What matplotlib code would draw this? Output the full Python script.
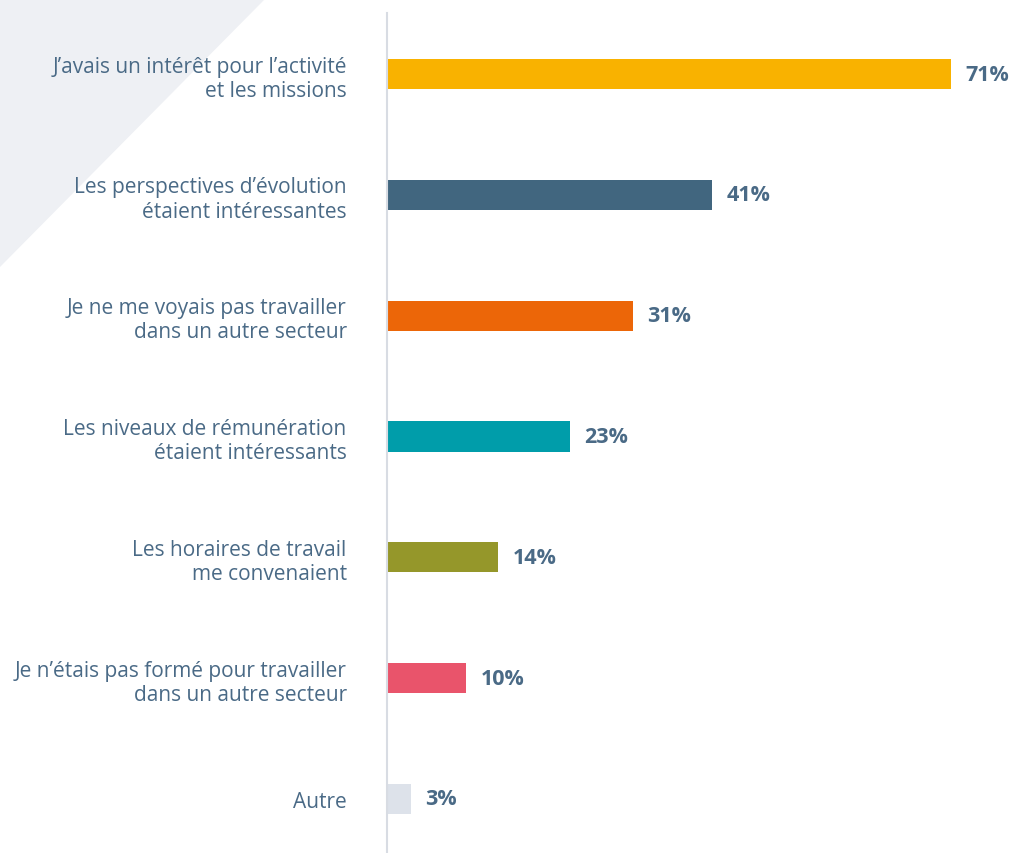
import matplotlib.pyplot as plt
from matplotlib.patches import Polygon

# Données
categories = [
    "J\u2019avais un intérêt pour l\u2019activité\net les missions",
    "Les perspectives d\u2019évolution\nétaient intéressantes",
    "Je ne me voyais pas travailler\ndans un autre secteur",
    "Les niveaux de rémunération\nétaient intéressants",
    "Les horaires de travail\nme convenaient",
    "Je n\u2019étais pas formé pour travailler\ndans un autre secteur",
    "Autre",
]
valeurs = [71, 41, 31, 23, 14, 10, 3]
couleurs = ["#F9B200", "#41667F", "#EC6608", "#009DAA", "#95972A", "#E9546B", "#DDE2EA"]

texte = "#4A6A86"
plt.rcParams['font.family'] = ['Open Sans', 'DejaVu Sans']

fig = plt.figure(figsize=(10.11, 8.54), dpi=100)
W, H = 1011, 854

# Triangle gris en haut à gauche (axe de fond)
bg = fig.add_axes([0, 0, 1, 1], zorder=-1)
bg.set_xlim(0, W)
bg.set_ylim(H, 0)
bg.add_patch(Polygon([(0, 0), (265, 0), (0, 268)], closed=True,
                     facecolor="#EEF0F4", edgecolor="none"))
bg.axis("off")

ax = fig.add_axes([387 / W, 0, 1 - 387 / W, 1 - 14 / H])
ax.patch.set_alpha(0)

y = list(range(len(valeurs)))
ax.barh(y, valeurs, height=0.25, color=couleurs)
ax.set_xlim(0, 78.6)
ax.set_ylim(6.447, -0.505)

for i, v in enumerate(valeurs):
    ax.text(v + 1.8, i, f"{v}%", va="center", ha="left", fontsize=15.5,
            fontweight="bold", color=texte)

ax.set_yticks(y)
ax.set_yticklabels(categories, fontsize=15, color=texte, linespacing=1.2)
ax.tick_params(axis="y", length=0, pad=29)
ax.set_xticks([])

for s in ["top", "right", "bottom"]:
    ax.spines[s].set_visible(False)
ax.spines["left"].set_color("#D8DCE3")
ax.spines["left"].set_linewidth(1.5)

plt.savefig("out.png", dpi=100)
